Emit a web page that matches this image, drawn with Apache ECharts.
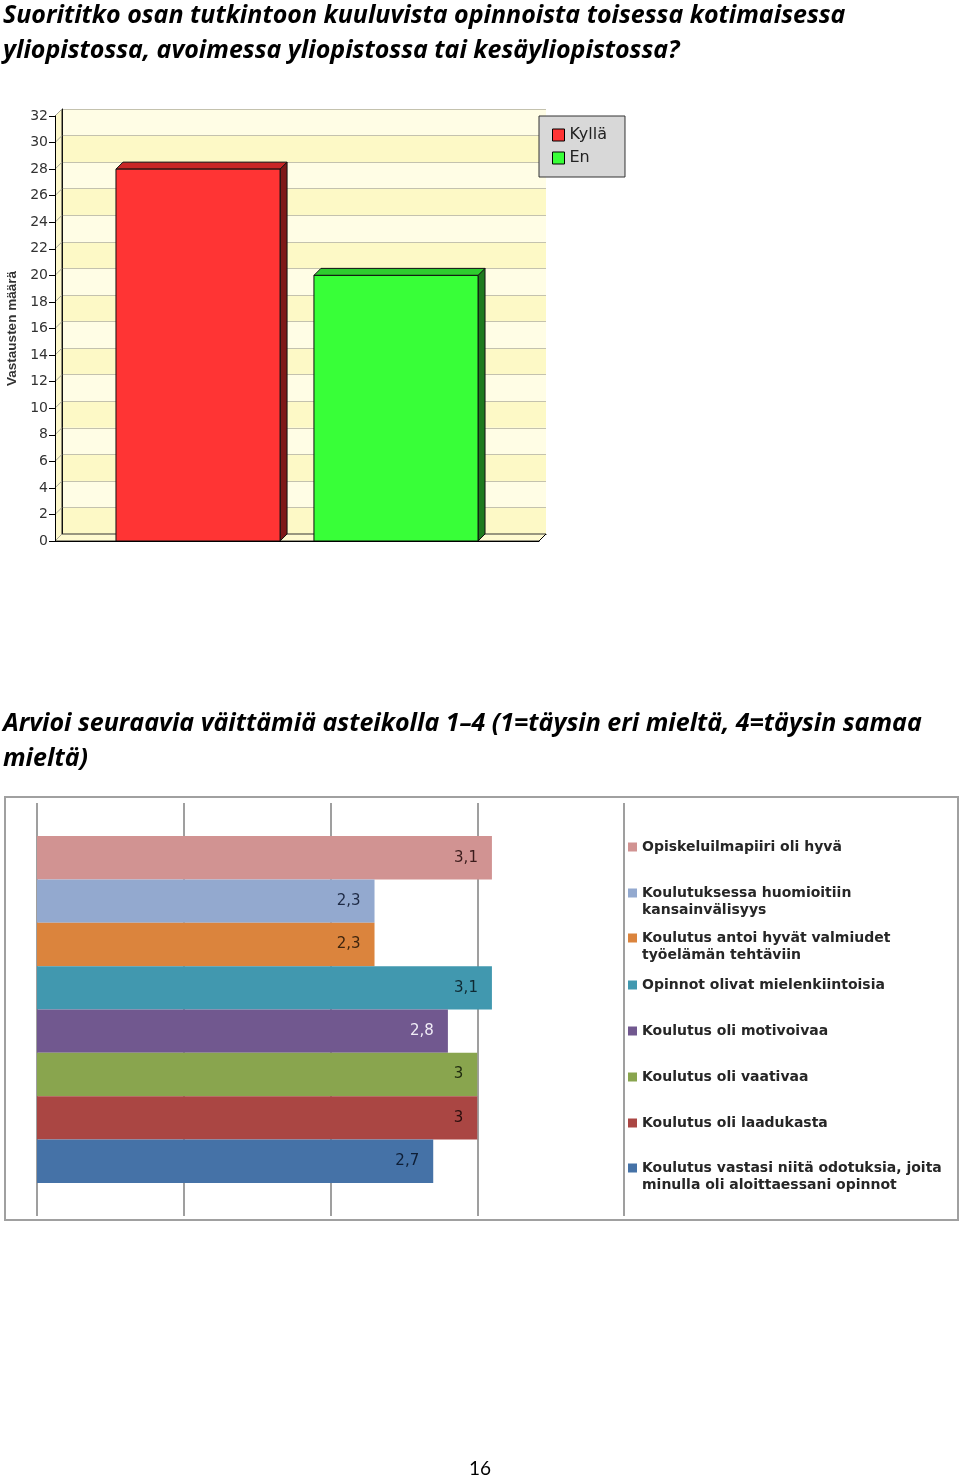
<!DOCTYPE html>
<html><head><meta charset="utf-8">
<script src="https://cdn.jsdelivr.net/npm/echarts@6/dist/echarts.min.js"></script>
<style>html,body{margin:0;padding:0;background:#fff}#c{width:960px;height:1481px}</style>
</head><body><div id="c"></div>
<script>
// ---------- data ----------
const title1 = 'Suorititko osan tutkintoon kuuluvista opinnoista toisessa kotimaisessa\nyliopistossa, avoimessa yliopistossa tai kesäyliopistossa?';
const title2 = 'Arvioi seuraavia väittämiä asteikolla 1–4 (1=täysin eri mieltä, 4=täysin samaa\nmieltä)';
const pageNumber = '16';

const chart1Categories = [''];
const chart1SeriesNames = ['Kyllä', 'En'];
const kylla = [28];
const en = [20];
const chart1YTicks = [0, 2, 4, 6, 8, 10, 12, 14, 16, 18, 20, 22, 24, 26, 28, 30, 32];
const chart1YName = 'Vastausten määrä';

const chart2Names = [
  'Opiskeluilmapiiri oli hyvä',
  'Koulutuksessa huomioitiin\nkansainvälisyys',
  'Koulutus antoi hyvät valmiudet\ntyöelämän tehtäviin',
  'Opinnot olivat mielenkiintoisia',
  'Koulutus oli motivoivaa',
  'Koulutus oli vaativaa',
  'Koulutus oli laadukasta',
  'Koulutus vastasi niitä odotuksia, joita\nminulla oli aloittaessani opinnot'
];
const chart2Values = [3.1, 2.3, 2.3, 3.1, 2.8, 3, 3, 2.7];
const chart2Ticks = [0, 1, 2, 3, 4];

// ---------- styles ----------
const c1Face = ['#FF3434', '#38FF38'];
const c1Side = ['#7E1818', '#1E7A1E'];
const c1Top = ['#C82626', '#2ECC2E'];
const c2Colors = ['#D19392', '#93A9CF', '#DB843D', '#4198AF', '#71588F', '#89A54E', '#AA4643', '#4572A7'];
const c2LabelColors = ['#3B1C1C', '#1E2A45', '#3F250E', '#0F2A33', '#F0ECF6', '#1F2A0F', '#2A0E0D', '#0E1E36'];
const D = 7;

function bar3d(k) {
  return function (params, api) {
    const v = api.value(1);
    const p = api.coord([api.value(0), v]);
    const b = api.coord([api.value(0), 0]);
    const band = api.size([1, 0])[0];
    const w = band * 0.339;
    const off = (k === 0 ? -1 : 1) * band * 0.2045;
    const x0 = p[0] + off - w / 2, x1 = x0 + w, yt = p[1], yb = b[1];
    return {
      type: 'group', children: [
        { type: 'polygon', shape: { points: [[x1, yt], [x1 + D, yt - D], [x1 + D, yb - D], [x1, yb]] }, style: { fill: c1Side[k], stroke: '#111', lineWidth: 1 } },
        { type: 'polygon', shape: { points: [[x0, yt], [x0 + D, yt - D], [x1 + D, yt - D], [x1, yt]] }, style: { fill: c1Top[k], stroke: '#111', lineWidth: 1 } },
        { type: 'rect', shape: { x: x0, y: yt, width: w, height: yb - yt }, style: { fill: c1Face[k], stroke: '#111', lineWidth: 1 } }
      ]
    };
  };
}

function walls(params, api) {
  const cs = params.coordSys;
  const y = api.coord([0, api.value(1)])[1];
  const children = [];
  if (params.dataIndex === 0) {
    const yb = cs.y + cs.height;
    children.push({ type: 'polygon', shape: { points: [[cs.x, yb], [cs.x, cs.y], [cs.x + D, cs.y - D], [cs.x + D, yb - D]] }, style: { fill: '#FDF8CC', stroke: null } });
    children.push({ type: 'polygon', shape: { points: [[cs.x, yb], [cs.x + D, yb - D], [cs.x + cs.width + D, yb - D], [cs.x + cs.width, yb]] }, style: { fill: '#FEFAD0', stroke: '#333', lineWidth: 1 } });
    children.push({ type: 'line', shape: { x1: cs.x, y1: cs.y, x2: cs.x + D, y2: cs.y - D }, style: { stroke: '#000', lineWidth: 1 } });
    children.push({ type: 'line', shape: { x1: cs.x + D, y1: cs.y - D, x2: cs.x + D, y2: yb - D }, style: { stroke: '#222', lineWidth: 1 } });
    children.push({ type: 'line', shape: { x1: cs.x + cs.width, y1: yb, x2: cs.x + cs.width + D, y2: yb - D }, style: { stroke: '#000', lineWidth: 1 } });
  }
  children.push({ type: 'line', shape: { x1: cs.x, y1: y, x2: cs.x + D, y2: y - D }, style: { stroke: '#A8A698', lineWidth: 1 } });
  return { type: 'group', children };
}

const fontUI = 'DejaVu Sans';
const twoLine = chart2Names.map(n => n.indexOf('\n') >= 0);
const legendCenters = [847, 893, 938, 985, 1031, 1077, 1123, 1168];

const legends2 = chart2Names.map((n, i) => ({
  data: [n],
  orient: 'vertical',
  left: 628,
  top: twoLine[i] ? legendCenters[i] - 25.5 : legendCenters[i] - 8.5,
  padding: 0,
  icon: 'rect',
  itemWidth: 9,
  itemHeight: 9,
  selectedMode: false,
  formatter: name => (name.indexOf('\n') >= 0 ? '\n' + name : name),
  textStyle: { fontFamily: fontUI, fontSize: 14, fontWeight: 'bold', color: '#262626', lineHeight: 17 }
}));

const series2 = chart2Names.map((n, i) => ({
  type: 'bar',
  name: n,
  xAxisIndex: 2, yAxisIndex: 2,
  data: [chart2Values[i]],
  barGap: '0%',
  barCategoryGap: '16%',
  itemStyle: { color: c2Colors[i] },
  label: {
    show: true, position: 'insideRight', distance: 14,
    fontFamily: fontUI, fontSize: 15, color: c2LabelColors[i],
    formatter: p => String(p.value).replace('.', ',')
  },
  z: 3
}));

const titleFont = { fontFamily: 'Open Sans', fontStyle: 'italic', fontWeight: 'bold', fontSize: 25, lineHeight: 35, color: '#000' };

const option = {
  animation: false,
  backgroundColor: '#fff',
  title: [
    { text: title1, left: 3, top: -2, padding: 0, textStyle: titleFont },
    { text: title2, left: 3, top: 706, padding: 0, textStyle: titleFont },
    { text: pageNumber, left: 'center', top: 1459, padding: 0, textStyle: { fontFamily: 'Lato', fontWeight: 'normal', fontSize: 19, color: '#000' } }
  ],
  legend: [
    {
      data: chart1SeriesNames,
      orient: 'vertical', left: 539, top: 116,
      backgroundColor: '#D8D8D8', borderColor: '#333', borderWidth: 1,
      padding: [11, 18, 11, 13],
      icon: 'rect', itemWidth: 12, itemHeight: 12, itemGap: 7,
      selectedMode: false,
      itemStyle: { borderColor: '#000', borderWidth: 1 },
      textStyle: { fontFamily: fontUI, fontSize: 16, color: '#222' }
    }
  ].concat(legends2),
  graphic: [
    { type: 'rect', shape: { x: 5, y: 797, width: 953, height: 423 }, style: { fill: 'none', stroke: '#A0A0A0', lineWidth: 2 }, z: 0 }
  ],
  grid: [
    { left: 55, top: 116, width: 484, height: 425, outerBoundsMode: 'none', containLabel: false },
    { left: 62, top: 109, width: 484, height: 425, outerBoundsMode: 'none', containLabel: false },
    { left: 37, top: 803, width: 587, height: 413, outerBoundsMode: 'none', containLabel: false }
  ],
  xAxis: [
    { gridIndex: 0, type: 'category', data: chart1Categories, axisLine: { lineStyle: { color: '#000', width: 1 } }, axisTick: { show: false }, axisLabel: { show: false }, z: 5 },
    { gridIndex: 1, type: 'value', min: 0, max: 1, position: 'top', axisLine: { show: true, lineStyle: { color: '#000' } }, axisTick: { show: false }, axisLabel: { show: false }, splitLine: { show: false } },
    { gridIndex: 2, type: 'value', min: chart2Ticks[0], max: chart2Ticks[chart2Ticks.length - 1], interval: 1, axisLine: { show: false }, axisTick: { show: false }, axisLabel: { show: false }, splitLine: { show: true, lineStyle: { color: '#7F7F7F', width: 1.5 } } }
  ],
  yAxis: [
    {
      gridIndex: 0, type: 'value', min: chart1YTicks[0], max: chart1YTicks[chart1YTicks.length - 1], interval: 2,
      name: chart1YName, nameLocation: 'middle', nameGap: 33, nameRotate: 90,
      nameTextStyle: { fontFamily: 'Liberation Sans', fontWeight: 'bold', fontSize: 13.5, color: '#333' },
      axisLine: { show: true, lineStyle: { color: '#000' } },
      axisTick: { show: true, length: 6, lineStyle: { color: '#000' } },
      axisLabel: { fontFamily: fontUI, fontSize: 14, color: '#333', margin: 7 },
      splitLine: { show: false }, z: 5
    },
    {
      gridIndex: 1, type: 'value', min: chart1YTicks[0], max: chart1YTicks[chart1YTicks.length - 1], interval: 2, position: 'right',
      axisLine: { show: true, lineStyle: { color: '#000' } }, axisTick: { show: false }, axisLabel: { show: false },
      splitLine: { show: true, lineStyle: { color: '#C4C2AE', width: 1 } },
      splitArea: { show: true, areaStyle: { color: ['#FDF9C6', '#FFFDE5'] } }
    },
    { gridIndex: 2, type: 'category', data: [''], inverse: true, axisLine: { show: false }, axisTick: { show: false }, axisLabel: { show: false } }
  ],
  series: [
    { type: 'custom', name: '_walls', xAxisIndex: 0, yAxisIndex: 0, clip: false, silent: true, z: 1, renderItem: walls, data: chart1YTicks.map(t => [0, t]), encode: { x: 0, y: 1 } },
    { type: 'custom', name: chart1SeriesNames[0], xAxisIndex: 0, yAxisIndex: 0, clip: false, z: 3, renderItem: bar3d(0), itemStyle: { color: c1Face[0] }, data: kylla.map((v, i) => [i, v]), encode: { x: 0, y: 1 } },
    { type: 'custom', name: chart1SeriesNames[1], xAxisIndex: 0, yAxisIndex: 0, clip: false, z: 3, renderItem: bar3d(1), itemStyle: { color: c1Face[1] }, data: en.map((v, i) => [i, v]), encode: { x: 0, y: 1 } }
  ].concat(series2)
};

const chart = echarts.init(document.getElementById('c'), null, { renderer: 'canvas' });
chart.setOption(option);
</script>
</body></html>
